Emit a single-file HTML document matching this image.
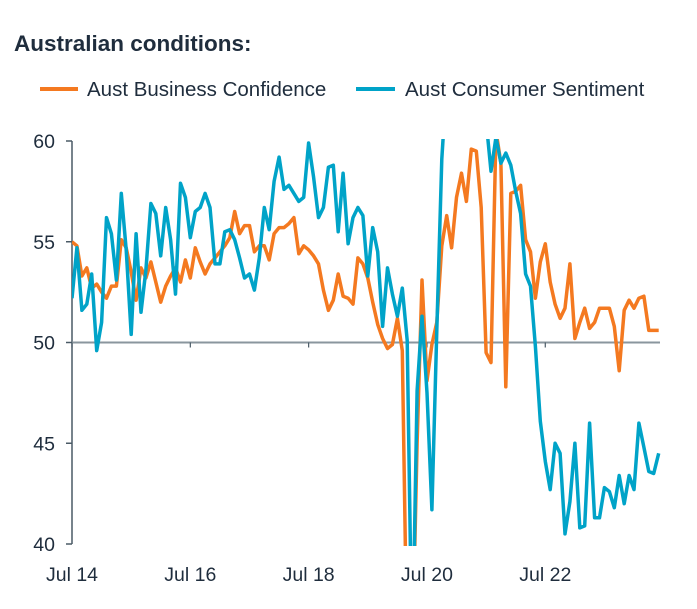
<!DOCTYPE html>
<html><head><meta charset="utf-8"><style>
html,body{margin:0;padding:0;background:#fff;overflow:hidden;width:697px;height:609px;font-family:"Liberation Sans",Arial,sans-serif;}
svg{display:block;}
svg text{font-family:"Liberation Sans",Arial,sans-serif;fill:#1f2d3d;}
</style></head><body>
<svg id="chart" width="697" height="609" viewBox="0 0 697 609">
<text x="14" y="51" font-size="22.5" font-weight="bold">Australian conditions:</text>
<g>
<line x1="40" y1="89" x2="78" y2="89" stroke="#f47920" stroke-width="4"/>
<text x="87" y="96" font-size="20.5">Aust Business Confidence</text>
<line x1="356" y1="89" x2="395" y2="89" stroke="#00a3c8" stroke-width="4"/>
<text x="405" y="96" font-size="20.5">Aust Consumer Sentiment</text>
</g>
<defs><clipPath id="plot"><rect x="72" y="139" width="592" height="407"/></clipPath></defs>
<g id="axes"></g>
<g id="series" clip-path="url(#plot)"></g>
</svg>
<script>
const xLabels=["Jul 14","Jul 16","Jul 18","Jul 20","Jul 22"];
const yTicks=[40,45,50,55,60];
const business=[55.0,54.8,53.3,53.7,52.7,52.9,52.5,52.2,52.8,52.8,55.1,54.7,53.5,52.1,53.7,53.2,54.0,53.0,52.0,52.8,53.3,53.7,53.0,54.1,53.2,54.7,54.0,53.4,53.9,54.2,54.5,54.8,55.2,56.5,55.4,55.8,55.8,54.5,54.8,54.8,54.1,55.4,55.7,55.7,55.9,56.2,54.4,54.8,54.6,54.3,53.9,52.6,51.6,52.1,53.4,52.3,52.2,51.9,54.2,53.9,53.2,52.0,50.9,50.2,49.7,49.9,51.2,49.6,34,34,45,53.1,48.1,49.9,51.0,54.8,56.3,54.7,57.2,58.4,57.0,59.6,59.5,56.7,49.5,49.0,60.5,58.9,47.8,57.4,57.5,57.8,55.1,54.5,52.2,54.0,54.9,53.0,51.9,51.2,51.7,53.9,50.2,51.0,51.7,50.7,51.0,51.7,51.7,51.7,50.8,48.6,51.6,52.1,51.7,52.2,52.3,50.6,50.6,50.6];
const consumer=[52.2,54.7,51.6,51.9,53.4,49.6,51.0,56.2,55.4,53.1,57.4,54.6,50.4,55.4,51.5,53.6,56.9,56.4,54.3,56.7,55.1,52.4,57.9,57.2,55.2,56.5,56.7,57.4,56.7,53.9,53.9,55.5,55.6,55.1,54.2,53.2,53.4,52.6,54.2,56.7,55.6,58.0,59.2,57.6,57.8,57.4,57.0,57.2,59.9,58.2,56.2,56.7,58.7,58.8,55.5,58.4,54.9,56.2,56.7,56.3,53.3,55.7,54.5,50.8,53.7,52.4,51.3,52.7,50.1,34,47.6,51.3,47.5,41.7,50.6,59.1,63,65,64,66,65,64,63,62,61,58.5,60.2,58.9,59.4,58.8,57.5,56.4,53.4,52.8,49.8,46.1,44.1,42.7,45.0,44.5,40.5,42.1,45.0,40.8,40.9,46.0,41.3,41.3,42.8,42.6,41.8,43.4,42.0,43.4,42.7,46.0,44.8,43.6,43.5,44.5];
const NS="http://www.w3.org/2000/svg";
const X0=72,DX=4.93,Y60=141,Y40=544;
function xs(i){return X0+i*DX;}
function ys(v){return Y40-(v-40)*(Y40-Y60)/20;}
const axes=document.getElementById('axes');
function mk(tag,attrs,parent){const e=document.createElementNS(NS,tag);for(const k in attrs)e.setAttribute(k,attrs[k]);parent.appendChild(e);return e;}
const yAxis=mk('line',{x1:X0,y1:ys(60),x2:X0,y2:ys(40),stroke:'#4a5a66','stroke-width':1.5},axes);


const xAxis=mk('line',{x1:X0,y1:ys(50),x2:660,y2:ys(50),stroke:'#8a969e','stroke-width':2},axes);


yTicks.forEach(v=>{
 const t=mk('line',{x1:X0-6,y1:ys(v),x2:X0,y2:ys(v),stroke:'#4a5a66','stroke-width':1.5},axes);
 
 
 const l=mk('text',{x:55,y:ys(v)+7,'font-size':19.5,'text-anchor':'end'},axes);
 l.textContent=v;
 
 
});
xLabels.forEach((s,k)=>{
 const x=xs(k*24);
 const t=mk('line',{x1:x,y1:ys(50),x2:x,y2:ys(50)+5,stroke:'#4a5a66','stroke-width':1.2},axes);
 
 
 const l=mk('text',{x:x,y:581,'font-size':19.5,'text-anchor':'middle'},axes);
 l.textContent=s;
 
 
});
const ser=document.getElementById('series');
function line(data,color,name){
 const p=mk('polyline',{points:data.map((v,i)=>xs(i).toFixed(1)+','+ys(v).toFixed(1)).join(' '),fill:'none',stroke:color,'stroke-width':3.5,'stroke-linejoin':'round'},ser);
 
 
}
line(business,'#f47920','business-confidence-line');
line(consumer,'#00a3c8','consumer-sentiment-line');
</script>
</body></html>
